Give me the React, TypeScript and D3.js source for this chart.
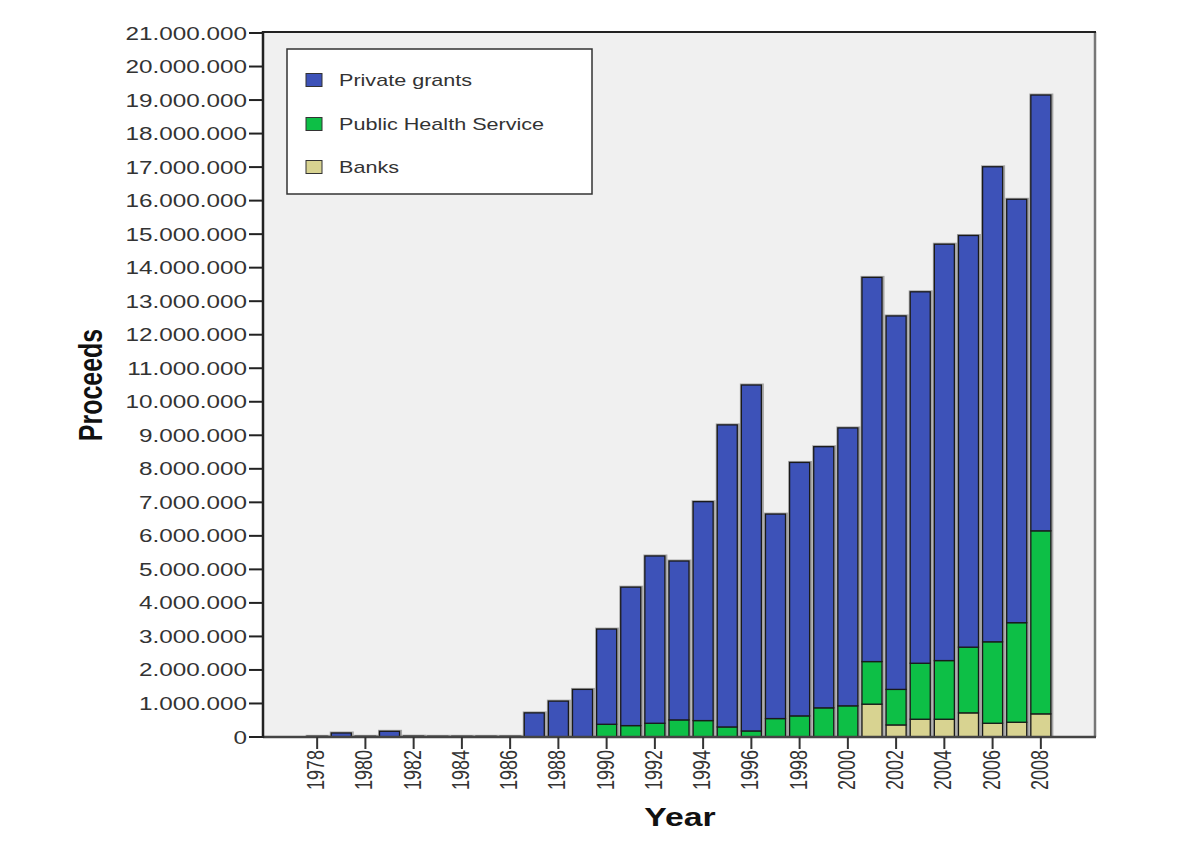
import React from "react";
import * as d3 from "d3";

const years = ["1978","1979","1980","1981","1982","1983","1984","1985","1986","1987","1988","1989","1990","1991","1992","1993","1994","1995","1996","1997","1998","1999","2000","2001","2002","2003","2004","2005","2006","2007","2008"];

// values in euros
const banks = [0,0,0,0,0,0,0,0,0,0,0,0,0,0,0,0,0,0,0,0,0,0,0,980000,360000,530000,530000,720000,410000,440000,690000];
const publicHealthService = [0,0,0,0,0,0,0,0,0,0,0,0,380000,340000,410000,510000,490000,300000,180000,550000,630000,870000,930000,1270000,1060000,1670000,1750000,1960000,2430000,2970000,5460000];
const privateGrants = [20000,120000,20000,170000,25000,20000,20000,20000,20000,720000,1070000,1420000,2840000,4130000,4990000,4740000,6530000,9010000,10320000,6100000,7560000,7790000,8290000,11460000,11140000,11080000,12420000,12280000,14170000,12630000,13000000];

const seriesKeys = ["banks", "phs", "private"];
const seriesLabels = ["Private grants", "Public Health Service", "Banks"];
const legendKeys = ["private", "phs", "banks"];
const yTicks = [0,1e6,2e6,3e6,4e6,5e6,6e6,7e6,8e6,9e6,10e6,11e6,12e6,13e6,14e6,15e6,16e6,17e6,18e6,19e6,20e6,21e6];
const xTickLabels = ["1978","1980","1982","1984","1986","1988","1990","1992","1994","1996","1998","2000","2002","2004","2006","2008"];

const colors: Record<string, string> = { private: "#3d52b8", phs: "#0dbf46", banks: "#d8d391" };

const FONT = "'Liberation Sans', Arial, Helvetica, sans-serif";
const SX = 1.35;

export default function App() {
  const left = 263, right = 1095, top = 32, bottom = 737;
  const x = d3.scaleBand<string>().domain(years).range([left, right]).paddingInner(0.17).paddingOuter(1.83);
  const y = d3.scaleLinear().domain([0, 21e6]).range([bottom, 33]);
  const loc = d3.formatLocale({ decimal: ",", thousands: ".", grouping: [3], currency: ["", "€"] });
  const fmt = loc.format(",.0f");

  const table = years.map((yr, i) => ({ year: yr, banks: banks[i], phs: publicHealthService[i], private: privateGrants[i] }));
  const stacked = d3.stack<any>().keys(seriesKeys)(table);
  const totals = table.map((d) => d.banks + d.phs + d.private);
  const bw = x.bandwidth();

  return (
    <svg width={1200} height={849} style={{ position: "absolute", left: 0, top: 0, background: "#fff" }} fontFamily={FONT}>
      <rect x={0} y={0} width={1200} height={849} fill="#ffffff" />
      <rect x={left} y={top} width={right - left} height={bottom - top} fill="#f0f0f0" />
      {years.map((yr, i) => (
        <rect key={"sh" + yr} x={(x(yr) as number) - 1.5} y={y(totals[i]) - 1.5} width={bw + 4} height={bottom - y(totals[i]) + 1.5} fill="#8c8c8c" opacity={0.75} />
      ))}
      {stacked.map((s) => (
        <g key={s.key}>
          {s.map((d, i) => {
            const h = y(d[0]) - y(d[1]);
            if (h <= 0) return null;
            return (
              <rect key={i} x={x(years[i]) as number} y={y(d[1])} width={bw} height={h} fill={colors[s.key]} stroke="#1a1a1a" strokeWidth={1.3} />
            );
          })}
        </g>
      ))}
      <line x1={right} x2={right} y1={top} y2={bottom} stroke="#777" strokeWidth={2.5} />
      <line x1={left} x2={right + 1} y1={top} y2={top} stroke="#222" strokeWidth={2} />
      <line x1={left} x2={right + 1} y1={bottom} y2={bottom} stroke="#444" strokeWidth={2.5} />
      <line x1={left} x2={left} y1={top - 1} y2={bottom + 1} stroke="#222" strokeWidth={2.5} />
      {yTicks.map((t) => (
        <g key={"yt" + t}>
          <line x1={249} x2={left} y1={y(t)} y2={y(t)} stroke="#222" strokeWidth={2} />
          <text transform={`translate(247,${y(t) + 6.5}) scale(${SX},1)`} textAnchor="end" fontSize={18} fill="#333">{fmt(t)}</text>
        </g>
      ))}
      {xTickLabels.map((t) => {
        const cx = (x(t) as number) + bw / 2;
        return (
          <g key={"xt" + t}>
            <line x1={cx} x2={cx} y1={bottom} y2={749} stroke="#333" strokeWidth={2} />
            <text transform={`translate(${cx + 7},750) rotate(-90) scale(1,${SX})`} textAnchor="end" fontSize={18} fill="#333">{t}</text>
          </g>
        );
      })}
      <text transform={`translate(102,385) rotate(-90) scale(1,${SX})`} textAnchor="middle" fontSize={25} fontWeight="bold" fill="#111">Proceeds</text>
      <text transform={`translate(680,826) scale(${SX},1)`} textAnchor="middle" fontSize={25} fontWeight="bold" fill="#111">Year</text>
      <rect x={287} y={49} width={305} height={145} fill="#ffffff" stroke="#333" strokeWidth={1.5} />
      {legendKeys.map((k, i) => {
        const cy = [80, 124, 167][i];
        return (
          <g key={"lg" + k}>
            <rect x={306} y={cy - 6.5} width={16} height={13} fill={colors[k]} stroke="#333" strokeWidth={1} />
            <text transform={`translate(339,${cy + 6}) scale(1.27,1)`} fontSize={17} fill="#333">{seriesLabels[i]}</text>
          </g>
        );
      })}
    </svg>
  );
}
